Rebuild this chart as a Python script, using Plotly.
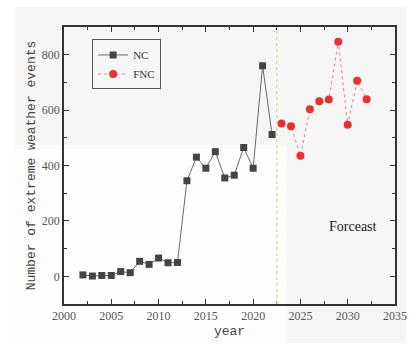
import plotly.graph_objects as go

nc_years = list(range(2002, 2023))
nc_values = [5, 1, 3, 3, 17, 13, 54, 43, 66, 49, 50, 345, 430, 390, 450, 355, 365, 465, 390, 760, 512]
fnc_years = list(range(2023, 2033))
fnc_values = [552, 542, 435, 603, 632, 638, 847, 547, 706, 639]
split_year = 2022.5
x_ticks = [2000, 2005, 2010, 2015, 2020, 2025, 2030, 2035]
y_ticks = [0, 200, 400, 600, 800]

fig = go.Figure()
fig.add_trace(go.Scatter(
    x=nc_years, y=nc_values, name="NC", mode="lines+markers",
    line=dict(color="#6a6a6a", width=1),
    marker=dict(symbol="square", size=7, color="#444444"),
))
fig.add_trace(go.Scatter(
    x=fnc_years, y=fnc_values, name="FNC", mode="lines+markers",
    line=dict(color="#f08080", width=1, dash="dot"),
    marker=dict(symbol="circle", size=8, color="#e63232"),
))

# background panels (paper coords)
fig.add_shape(type="rect", xref="paper", yref="paper", layer="below",
              x0=-51/343, x1=355/343, y0=-39/277, y1=(304-7)/277,
              fillcolor="#f6f6f6", line_width=0)
fig.add_shape(type="rect", xref="paper", yref="paper", layer="below",
              x0=-51/343, x1=(295-64)/343, y0=-39/277, y1=(304-145)/277,
              fillcolor="#fdfdfd", line_width=0)
# split line
fig.add_shape(type="line", xref="x", yref="paper", x0=split_year, x1=split_year,
              y0=0, y1=1, line=dict(color="#f5c070", width=1, dash="dot"))

fig.add_annotation(x=2030.6, y=180, xref="x", yref="y", text="Forceast",
                   showarrow=False, font=dict(family="Liberation Serif", size=14, color="#222"))

axis_common = dict(showline=True, linecolor="#333", linewidth=1.5, mirror="ticks",
                   ticks="inside", ticklen=5, tickcolor="#333", showgrid=False,
                   zeroline=False,
                   tickfont=dict(family="Liberation Serif", size=12, color="#555"))
fig.update_xaxes(range=[2000, 2035], tickvals=x_ticks,
                 minor=dict(dtick=2.5, tick0=2000, ticks="inside", ticklen=3, tickcolor="#333"),
                 title=dict(text="year", font=dict(family="Liberation Mono", size=13, color="#444"), standoff=4),
                 **axis_common)
fig.update_yaxes(range=[-100, 900], tickvals=y_ticks,
                 minor=dict(dtick=100, tick0=0, ticks="inside", ticklen=3, tickcolor="#333"),
                 title=dict(text="Number of extreme weather events",
                            font=dict(family="Liberation Mono", size=13, color="#444"), standoff=3),
                 **axis_common)

fig.update_layout(
    width=419, height=349,
    margin=dict(l=64, r=12, t=27, b=45),
    paper_bgcolor="white", plot_bgcolor="rgba(0,0,0,0)",
    legend=dict(x=0.085, y=0.955, xanchor="left", yanchor="top",
                bgcolor="rgba(0,0,0,0)", bordercolor="#555", borderwidth=1,
                font=dict(family="Liberation Serif", size=11, color="#333"),
                tracegroupgap=0, itemwidth=30),
    showlegend=True,
)

fig.write_html("out.html")
